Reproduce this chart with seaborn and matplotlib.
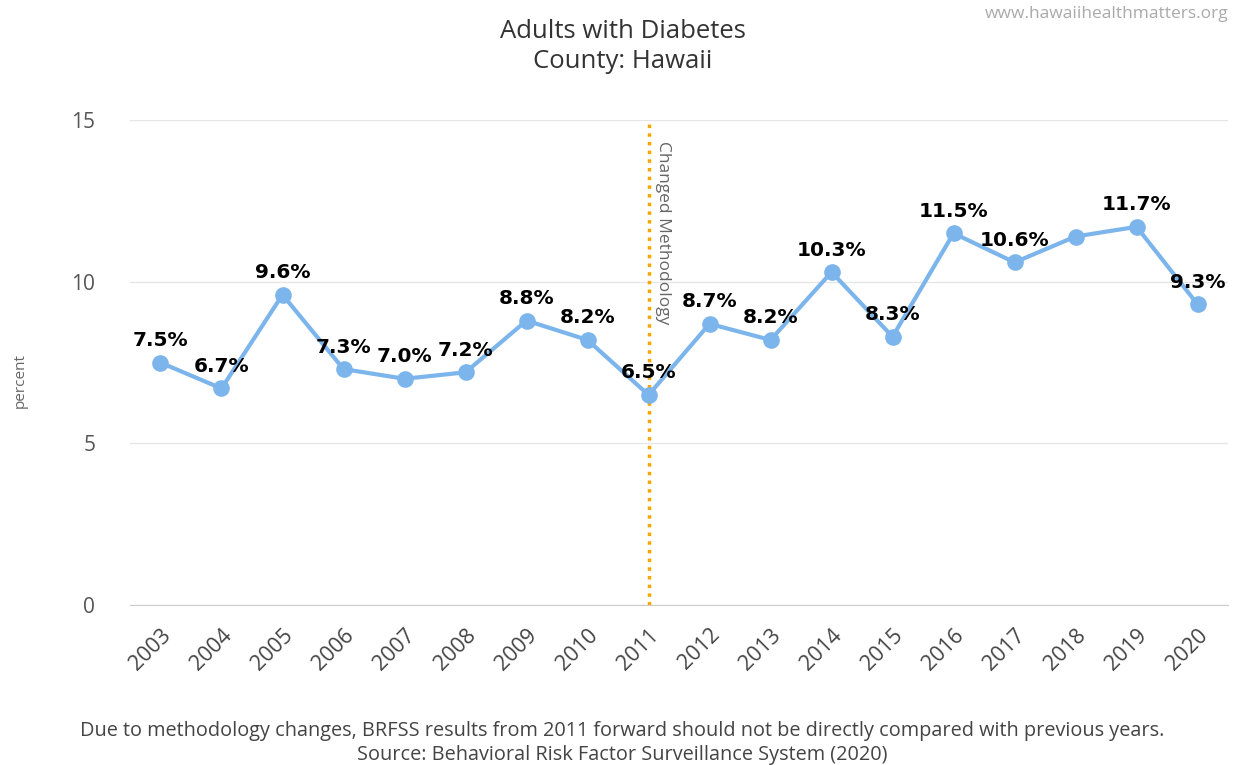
import numpy as np
import pandas as pd
import seaborn as sns
from matplotlib import pyplot as plt
from matplotlib.transforms import ScaledTranslation

# Data
years = [2003, 2004, 2005, 2006, 2007, 2008, 2009, 2010, 2011,
         2012, 2013, 2014, 2015, 2016, 2017, 2018, 2019, 2020]
percent = [7.5, 6.7, 9.6, 7.3, 7.0, 7.2, 8.8, 8.2, 6.5,
           8.7, 8.2, 10.3, 8.3, 11.5, 10.6, 11.4, 11.7, 9.3]
# 2018 has no label in the original
shown_labels = [True] * 15 + [False] + [True] * 2
method_change_year = 2011
yticks = [0, 5, 10, 15]

df = pd.DataFrame({"year": years, "percent": percent})

sns.set_style("white")
plt.rcParams['font.family'] = ['Open Sans', 'DejaVu Sans']

fig = plt.figure(figsize=(12.38, 7.65), dpi=100)
ax = fig.add_axes([0.105, 0.209, 0.887, 0.634])

line_col = "#7cb5ec"
sns.lineplot(data=df, x="year", y="percent", ax=ax, color=line_col,
             linewidth=3, marker="o", markersize=12, markeredgewidth=0,
             zorder=3)

# Data labels
for yr, val, show in zip(years, percent, shown_labels):
    if not show:
        continue
    ax.annotate(f"{val:.1f}%", (yr, val), xytext=(0, 9),
                textcoords="offset points", ha="center", va="bottom",
                fontsize=14.5, fontweight="bold", color="black", zorder=4,
                family="DejaVu Sans")

# Methodology change line
ax.axvline(method_change_year, color="#f7a600", linestyle=(0, (1, 1.5)),
           linewidth=2.5, zorder=2)
ax.text(method_change_year + 0.1, 14.35, "Changed Methodology",
        rotation=-90, ha="left", va="top", fontsize=12.5, color="#666666")

ax.set_xlim(2002.5, 2020.5)
ax.set_ylim(0, 15)
ax.set_yticks(yticks)
ax.set_xticks(years)
ax.set_xticklabels([str(y) for y in years], rotation=45, ha="right",
                   rotation_mode="anchor", fontsize=15.5, color="#444444")
shift = ScaledTranslation(18 / 100, 0, fig.dpi_scale_trans)
for lbl in ax.get_xticklabels():
    lbl.set_transform(lbl.get_transform() + shift)
ax.tick_params(axis="y", labelsize=15, colors="#555555", length=0, pad=25)
ax.tick_params(axis="x", length=0, pad=14)
ax.yaxis.grid(True, color="#e6e6e6", linewidth=1)
ax.set_axisbelow(True)
for s in ["top", "right", "left"]:
    ax.spines[s].set_visible(False)
ax.spines["bottom"].set_color("#cccccc")
ax.set_xlabel("")
ax.set_ylabel("")

fig.text(20 / 1238, 1 - 380 / 765, "percent", rotation=90, ha="center",
         va="center", fontsize=11, color="#666666")
fig.text(623 / 1238, 1 - 32 / 765, "Adults with Diabetes", ha="center",
         va="center", fontsize=18.5, color="#333333")
fig.text(623 / 1238, 1 - 62 / 765, "County: Hawaii", ha="center",
         va="center", fontsize=18.5, color="#333333")
fig.text(0.992, 1 - 14 / 765, "www.hawaiihealthmatters.org", ha="right",
         va="center", fontsize=12.5, color="#aaaaaa")
fig.text(622 / 1238, 1 - 731 / 765,
         "Due to methodology changes, BRFSS results from 2011 forward should not be directly compared with previous years.",
         ha="center", va="center", fontsize=14.3, color="#444444")
fig.text(622 / 1238, 1 - 755 / 765,
         "Source: Behavioral Risk Factor Surveillance System (2020)",
         ha="center", va="center", fontsize=14.3, color="#444444")

fig.savefig("out.png", dpi=100)
